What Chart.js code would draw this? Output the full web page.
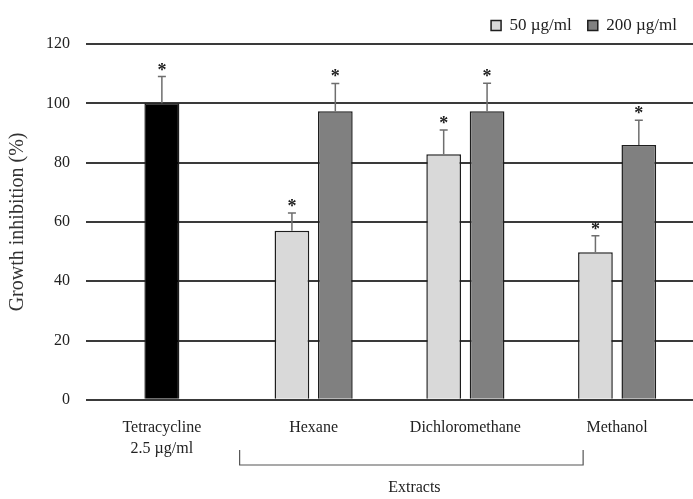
<!DOCTYPE html>
<html>
<head>
<meta charset="utf-8">
<script src="https://cdn.jsdelivr.net/npm/chart.js@4.4.0/dist/chart.umd.min.js"></script>
<style>
  html, body { margin: 0; padding: 0; background: #fff; }
  #wrap { width: 693px; height: 499px; }
</style>
</head>
<body>
<div id="wrap"><canvas id="graph"></canvas></div>
<script>
// data
var categories   = [["Tetracycline", "2.5 \u00b5g/ml"], "Hexane", "Dichloromethane", "Methanol"];
var tetra_vals   = [100, null, null, null];
var tetra_err    = [9, null, null, null];
var low_vals     = [null, 57, 82.8, 49.8];
var low_err      = [null, 6, 8.2, 5.5];
var high_vals    = [null, 97.3, 97.3, 85.9];
var high_err     = [null, 9.4, 9.5, 8.4];
var y_ticks      = [0, 20, 40, 60, 80, 100, 120];

var SERIF = "'Liberation Serif', 'DejaVu Serif', serif";

// error bars + asterisks + bracket under the extracts
var extrasPlugin = {
    id: "extras",
    afterDatasetsDraw: function(chart){
        let ctx = chart.ctx;
        let ys  = chart.scales.y;
        let xs  = chart.scales.x;
        let errs = [tetra_err, low_err, high_err];

        ctx.save();
        chart.data.datasets.forEach(function(ds, di){
            let meta = chart.getDatasetMeta(di);
            meta.data.forEach(function(bar, i){
                let v = ds.data[i];
                if (v === null) { return; }
                let top = ys.getPixelForValue(v + errs[di][i]);
                let x   = bar.x;
                ctx.strokeStyle = "#6e6e6e";
                ctx.lineWidth   = 1.5;
                ctx.beginPath();
                ctx.moveTo(x, bar.y);
                ctx.lineTo(x, top);
                ctx.moveTo(x - 4, top);
                ctx.lineTo(x + 4, top);
                ctx.stroke();

                ctx.fillStyle    = "#222";
                ctx.font         = "bold 18px " + SERIF;
                ctx.textAlign    = "center";
                ctx.textBaseline = "alphabetic";
                ctx.fillText("*", x, top - 1);
            });
        });

        // bracket
        let left  = xs.getPixelForValue(1) - 74;
        let right = xs.getPixelForValue(3) - 34;
        let by    = 465;
        ctx.strokeStyle = "#555";
        ctx.lineWidth   = 1.2;
        ctx.beginPath();
        ctx.moveTo(left, by - 15);
        ctx.lineTo(left, by);
        ctx.lineTo(right, by);
        ctx.lineTo(right, by - 15);
        ctx.stroke();

        ctx.fillStyle    = "#222";
        ctx.font         = "16px " + SERIF;
        ctx.textAlign    = "center";
        ctx.textBaseline = "middle";
        ctx.fillText("Extracts", (left + right) / 2 + 3, 488);
        ctx.restore();
    }
};

window.addEventListener("load", function(){
    let ctx0 = document.getElementById("graph");

    let common = {
        borderColor: "#1e1e1e",
        borderWidth: 1.5,
        skipNull: true,
        maxBarThickness: 35,
        categoryPercentage: 0.572,
        barPercentage: 0.8
    };

    new Chart(ctx0, {
        type: "bar",
        data: {
            labels: categories,
            datasets: [
                Object.assign({ label: "Tetracycline", data: tetra_vals, backgroundColor: "#000000" }, common),
                Object.assign({ label: "50 \u00b5g/ml",  data: low_vals,   backgroundColor: "#d9d9d9" }, common),
                Object.assign({ label: "200 \u00b5g/ml", data: high_vals,  backgroundColor: "#808080" }, common)
            ]
        },
        options: {
            responsive: true,
            maintainAspectRatio: false,
            animation: false,
            layout: { padding: { left: 0, right: 0, top: 1, bottom: 30 } },
            plugins: {
                tooltip: { enabled: false },
                legend: {
                    position: "top",
                    align: "end",
                    labels: {
                        filter: function(item){ return item.datasetIndex > 0; },
                        boxWidth: 10,
                        boxHeight: 10,
                        padding: 16,
                        color: "#222",
                        font: { family: SERIF, size: 17 }
                    }
                }
            },
            scales: {
                x: {
                    grid: { display: false },
                    border: { display: false },
                    ticks: {
                        color: "#222",
                        padding: 9,
                        maxRotation: 0,
                        autoSkip: false,
                        font: { family: SERIF, size: 16, lineHeight: 1.35 }
                    }
                },
                y: {
                    min: 0,
                    max: 120,
                    afterBuildTicks: function(axis){
                        axis.ticks = y_ticks.map(function(v){ return { value: v }; });
                    },
                    grid: { color: "#3a3a3a", lineWidth: 2, drawTicks: false },
                    border: { display: false },
                    ticks: {
                        color: "#222",
                        padding: 16,
                        font: { family: SERIF, size: 16 }
                    },
                    title: {
                        display: true,
                        text: "Growth inhibition (%)",
                        color: "#333",
                        padding: { top: 6, bottom: 0 },
                        font: { family: SERIF, size: 20 }
                    }
                }
            }
        },
        plugins: [extrasPlugin]
    });
});
</script>
</body>
</html>
